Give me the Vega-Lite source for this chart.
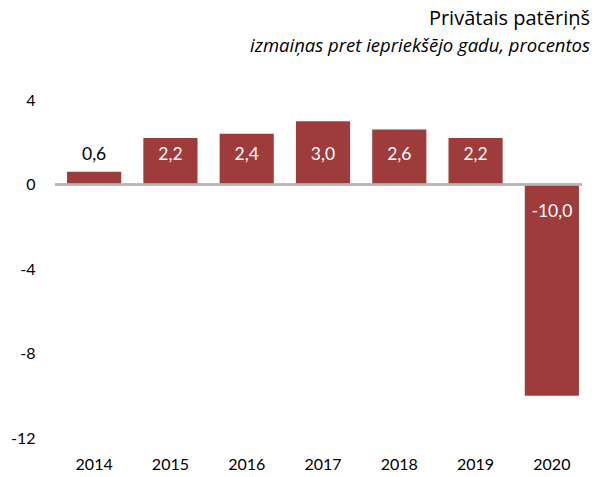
{
  "$schema": "https://vega.github.io/schema/vega-lite/v6.json",
  "width": 534,
  "height": 338,
  "autosize": {"type": "none"},
  "padding": {"left": 56, "top": 100, "right": 13, "bottom": 39},
  "config": {
    "view": {"stroke": null},
    "font": "Lato",
    "locale": {"number": {"decimal": ",", "thousands": " ", "grouping": [3], "currency": ["", " €"], "minus": "-"}}
  },
  "title": {
    "text": "Privātais patēriņš",
    "subtitle": "izmaiņas pret iepriekšējo gadu, procentos",
    "anchor": "end",
    "frame": "group",
    "font": "Open Sans",
    "fontSize": 20,
    "fontWeight": "normal",
    "color": "#000000",
    "subtitleFont": "Open Sans",
    "subtitleFontSize": 18.5,
    "subtitleFontStyle": "italic",
    "subtitleColor": "#000000",
    "subtitlePadding": 8,
    "offset": 37
  },
  "data": {
    "values": [
      {"year": "2014", "v": 0.6},
      {"year": "2015", "v": 2.2},
      {"year": "2016", "v": 2.4},
      {"year": "2017", "v": 3.0},
      {"year": "2018", "v": 2.6},
      {"year": "2019", "v": 2.2},
      {"year": "2020", "v": -10.0}
    ]
  },
  "encoding": {
    "x": {
      "field": "year",
      "type": "ordinal",
      "scale": {"paddingInner": 0.29, "paddingOuter": 0.145},
      "axis": {
        "title": null,
        "labelAngle": 0,
        "ticks": false,
        "domain": false,
        "labelFontSize": 16,
        "labelColor": "#000000",
        "labelPadding": 18,
        "labelFont": "Lato"
      }
    }
  },
  "layer": [
    {
      "mark": {"type": "bar", "color": "#9e3b3b"},
      "encoding": {
        "y": {
          "field": "v",
          "type": "quantitative",
          "scale": {"domain": [-12, 4], "nice": false, "zero": false},
          "axis": {
            "title": null,
            "values": [4, 0, -4, -8, -12],
            "grid": false,
            "ticks": false,
            "domain": false,
            "labelFontSize": 16,
            "labelColor": "#000000",
            "labelPadding": 21,
            "labelFont": "Lato",
            "format": "d"
          }
        }
      }
    },
    {
      "mark": {"type": "rule", "color": "#b5b5b5", "strokeWidth": 1.5},
      "encoding": {"y": {"datum": 0}, "x": {"value": -1}, "x2": {"value": 526}}
    },
    {
      "transform": [{"filter": "datum.v >= 0"}],
      "mark": {"type": "text", "fontSize": 17.5, "baseline": "middle"},
      "encoding": {
        "y": {"datum": 1.4},
        "text": {"field": "v", "type": "quantitative", "format": ".1f"},
        "color": {
          "condition": {"test": "datum.v < 1", "value": "#000000"},
          "value": "#ffffff"
        }
      }
    },
    {
      "transform": [{"filter": "datum.v < 0"}],
      "mark": {"type": "text", "fontSize": 17.5, "baseline": "middle", "color": "#ffffff"},
      "encoding": {
        "y": {"datum": -1.3},
        "text": {"field": "v", "type": "quantitative", "format": ".1f"}
      }
    }
  ]
}
